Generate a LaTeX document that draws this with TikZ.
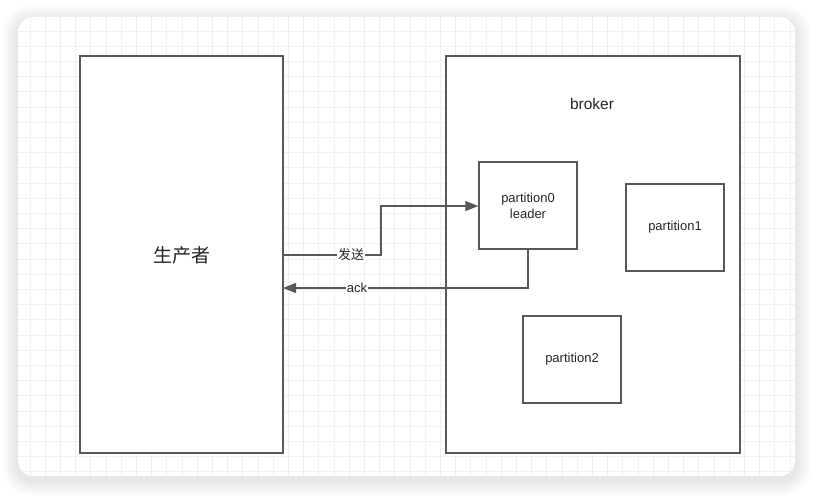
\documentclass[tikz,border=0pt]{standalone}
\usepackage{fontspec}
\setmainfont{Liberation Sans}
\newfontfamily\cjk{Noto Sans CJK SC}
\usetikzlibrary{arrows.meta}
\definecolor{edge}{HTML}{55595E}
\definecolor{txt}{HTML}{262626}
\definecolor{gridc}{HTML}{EFEFEF}
\tikzset{
  box/.style={draw=edge, line width=1.4pt, fill=white},
  conn/.style={draw=edge, line width=1.3pt},
  tip/.style={-{Triangle[length=13pt,width=10pt]}},
  lbl/.style={font=\fontsize{13}{15}\selectfont, text=txt, fill=white, inner sep=1pt},
}
\begin{document}
\begin{tikzpicture}[x=1pt,y=-1pt]
\useasboundingbox (0,0) rectangle (813,498);
\fill[white] (0,0) rectangle (813,498);
% shadow
\foreach \i in {16,14,...,2}{
  \fill[black, opacity=0.012, rounded corners=15+\i] (18-\i,17-\i+4) rectangle (795+\i,476+\i+4);
}
% card
\fill[white, rounded corners=15] (18,17) rectangle (795,476);
\begin{scope}
\clip[rounded corners=15] (18,17) rectangle (795,476);
\foreach \k in {-1,...,51}{
  \draw[gridc, line width=0.9pt] (30+15.2*\k,17) -- (30+15.2*\k,476);
}
\foreach \k in {-1,...,30}{
  \draw[gridc, line width=0.9pt] (18,31+15.2*\k) -- (795,31+15.2*\k);
}
\end{scope}
% boxes
\draw[box] (80,56) rectangle (283,453);
\node[text=txt, font=\cjk\fontsize{19}{22}\selectfont] (prod) at (181.5,255) {生产者};
\coordinate (prodR1) at (283,255);
\coordinate (prodR2) at (283,288);
\draw[box] (446,56) rectangle (740,453);
\node[text=txt, font=\fontsize{15.5}{18}\selectfont] (broker) at (592,104) {broker};
\node[box, minimum width=98pt, minimum height=87pt, inner sep=0pt, align=center, text=txt, font=\fontsize{13}{16}\selectfont] (p0) at (528,205.5) {partition0\\leader};
\node[box, minimum width=98pt, minimum height=87pt, inner sep=0pt, text=txt, font=\fontsize{13}{16}\selectfont] (p1) at (675,227.5) {partition1};
\node[box, minimum width=98pt, minimum height=87pt, inner sep=0pt, text=txt, font=\fontsize{13}{16}\selectfont] (p2) at (572,359.5) {partition2};
% connectors
\draw[conn, tip] (prodR1) -- (381,255) -- (381,206) -- (p0.west |- 0,206);
\draw[conn, tip] (p0.south) -- (528,288) -- (prodR2);
\node[lbl, font=\cjk\fontsize{13}{15}\selectfont] (send) at (351,255) {发送};
\node[lbl] (ack) at (357,288) {ack};
\end{tikzpicture}
\end{document}
